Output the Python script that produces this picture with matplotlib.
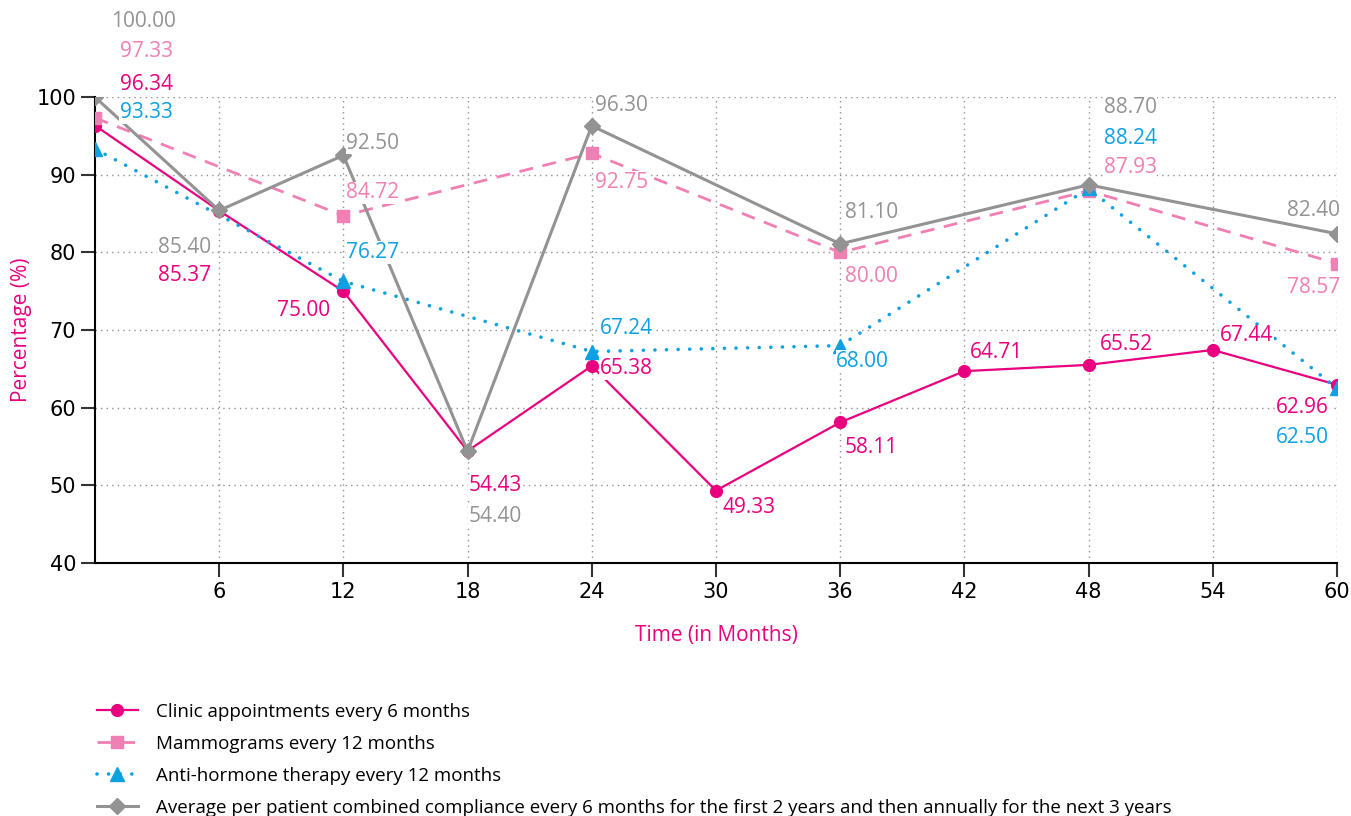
import matplotlib.pyplot as plt

# data
months_clinic = [0, 6, 12, 18, 24, 30, 36, 42, 48, 54, 60]
clinic = [96.34, 85.37, 75.00, 54.43, 65.38, 49.33, 58.11, 64.71, 65.52, 67.44, 62.96]

months_yearly = [0, 12, 24, 36, 48, 60]
mammo = [97.33, 84.72, 92.75, 80.00, 87.93, 78.57]
anti = [93.33, 76.27, 67.24, 68.00, 88.24, 62.50]

months_combined = [0, 6, 12, 18, 24, 36, 48, 60]
combined = [100.00, 85.40, 92.50, 54.40, 96.30, 81.10, 88.70, 82.40]

xticks = [6, 12, 18, 24, 30, 36, 42, 48, 54, 60]
yticks = [40, 50, 60, 70, 80, 90, 100]

names = ['Clinic appointments every 6 months',
         'Mammograms every 12 months',
         'Anti-hormone therapy every 12 months',
         'Average per patient combined compliance every 6 months for the first 2 years and then annually for the next 3 years']

MAGENTA = '#e8007f'
PINK = '#f07fb3'
BLUE = '#0fa0e2'
GREY = '#939393'

# label offsets in pixels (dx, dy) and alignment
clinic_off = [(25, 41, 'left'), (-8, -65, 'right'), (-13, -19, 'right'), (1, -35, 'left'),
              (8, -3, 'left'), (7, -17, 'left'), (4, -25, 'left'), (6, 19, 'left'),
              (11, 20, 'left'), (7, 14, 'left'), (-8, -23, 'right')]
mammo_off = [(25, 66, 'left'), (3, 23, 'left'), (3, -29, 'left'), (5, -24, 'left'),
             (15, 23, 'left'), (3, -24, 'right')]
anti_off = [(25, 36, 'left'), (3, 29, 'left'), (8, 23, 'left'), (-4, -16, 'left'),
            (15, 50, 'left'), (-8, -49, 'right')]
comb_off = [(16, 76, 'left'), (-8, -37, 'right'), (3, 12, 'left'), (1, -65, 'left'),
            (3, 20, 'left'), (5, 31, 'left'), (15, 77, 'left'), (3, 23, 'right')]

plt.rcParams['font.family'] = ['Open Sans', 'DejaVu Sans']

fig = plt.figure(figsize=(13.51, 8.16), dpi=100)
ax = fig.add_axes([0.0703, 0.31, 0.9193, 0.571])

l1, = ax.plot(months_clinic, clinic, color=MAGENTA, lw=1.6, marker='o', ms=8.5, zorder=3)
l2, = ax.plot(months_yearly, mammo, color=PINK, lw=2, ls=(0, (5, 3.5)), marker='s', ms=9,
              zorder=4)
l3, = ax.plot(months_yearly, anti, color=BLUE, lw=2.6, ls=(0, (0.01, 3.2)),
              dash_capstyle='round', marker='^', ms=9.5, zorder=5)
l4, = ax.plot(months_combined, combined, color=GREY, lw=2.2, marker='D', ms=8, zorder=6)


def add_labels(xs, ys, offs, color):
    for x, y, (dx, dy, ha) in zip(xs, ys, offs):
        ax.annotate(f'{y:.2f}', (x, y), xytext=(dx, dy), textcoords='offset pixels',
                    ha=ha, va='center', fontsize=15, color=color, zorder=8,
                    bbox=dict(facecolor='white', edgecolor='none', pad=0.5),
                    annotation_clip=False)


add_labels(months_clinic, clinic, clinic_off, MAGENTA)
add_labels(months_yearly, mammo, mammo_off, PINK)
add_labels(months_yearly, anti, anti_off, BLUE)
add_labels(months_combined, combined, comb_off, GREY)

ax.set_xlim(0, 60)
ax.set_ylim(40, 100)
ax.set_xticks(xticks)
ax.set_yticks(yticks)
ax.grid(True, ls=(0, (1, 3)), color='#909090', lw=1)
for s in ['top', 'right']:
    ax.spines[s].set_visible(False)
ax.spines['left'].set_linewidth(1.5)
ax.spines['bottom'].set_linewidth(1.5)
ax.tick_params(length=10, width=1.5, color='#333333', labelsize=15)
for lab in ax.get_xticklabels() + ax.get_yticklabels():
    lab.set_family('DejaVu Sans')

ax.set_xlabel('Time (in Months)', color=MAGENTA, fontsize=15, labelpad=17)
ax.set_ylabel('Percentage (%)', color=MAGENTA, fontsize=15, labelpad=3)

fig.legend([l1, l2, l3, l4], names, loc='upper left', bbox_to_anchor=(0.066, 0.148),
           frameon=False, fontsize=13.5, handlelength=2.2, labelspacing=0.75,
           handletextpad=0.95, borderaxespad=0)

fig.savefig('out.png', dpi=100)
